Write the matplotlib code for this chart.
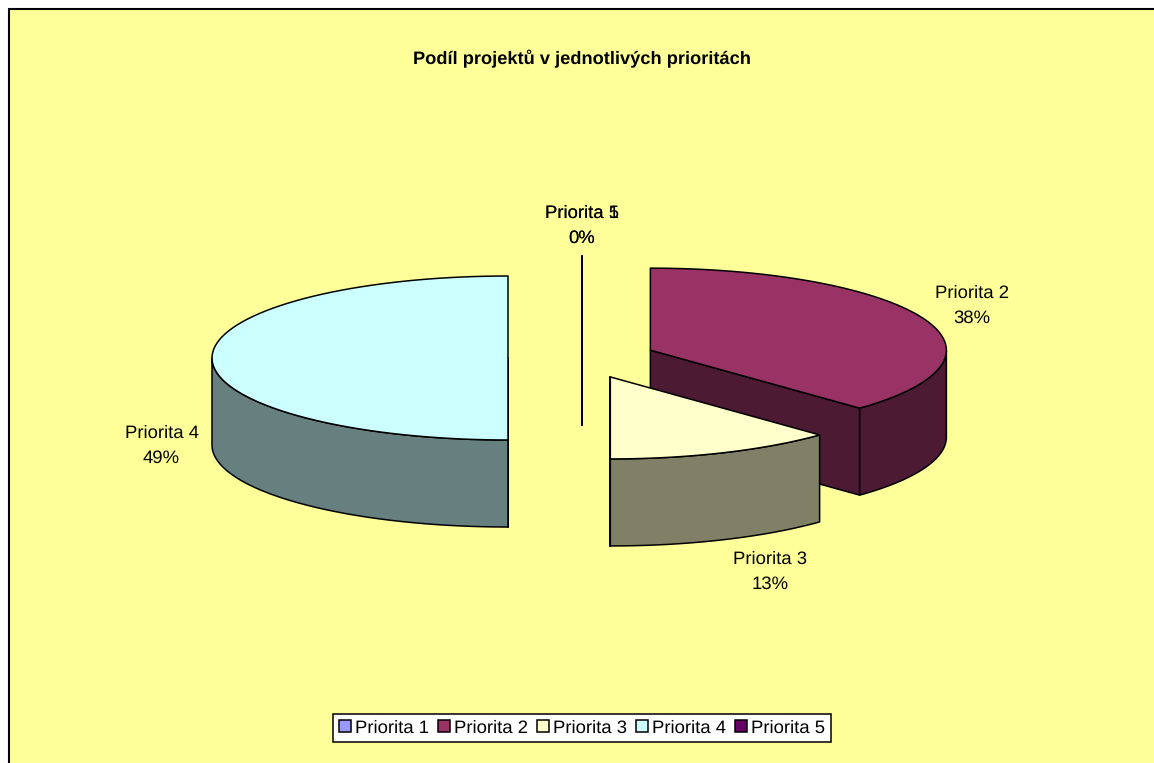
import numpy as np
import matplotlib
matplotlib.use('Agg')
import matplotlib.pyplot as plt
from matplotlib.patches import Polygon, Patch, Rectangle

plt.rcParams['font.family'] = ['Liberation Sans', 'DejaVu Sans']
plt.rcParams['text.hinting'] = 'no_hinting'

title = 'Podíl projektů v jednotlivých prioritách'
names = ['Priorita 1', 'Priorita 2', 'Priorita 3', 'Priorita 4', 'Priorita 5']
shares = [0, 37.5, 12.5, 50, 0]
pct_labels = ['0%', '38%', '13%', '49%', '0%']
top_colors = ['#9999FF', '#993366', '#FFFFCC', '#CCFFFF', '#660066']
side_colors = ['#4D4D80', '#4D1A33', '#808066', '#668080', '#330033']

# pie geometry in pixels
cx, cy = 582, 358
rx, ry = 296, 82
depth = 87
explode = 0.25
lw = 1.1
fs = 13.3

# name left edge, name y, percent centre x, percent y
label_pos = [(545, 213, 582, 238), (935, 293, 972, 318), (733, 559, 770, 584),
             (125, 433, 161, 458), (545, 213, 582, 238)]


def point(ang, ox, oy, r=1.0):
    # angle in degrees, clockwise from 12 o'clock
    t = np.radians(ang)
    return ox + r * rx * np.sin(t), oy - r * ry * np.cos(t)


def arc(a, b, ox, oy):
    angs = np.linspace(a, b, 80)
    return [point(x, ox, oy) for x in angs]


fig = plt.figure(figsize=(11.54, 7.63), dpi=100, facecolor='white')
ax = fig.add_axes([0, 0, 1, 1])
ax.set_xlim(0, 1154)
ax.set_ylim(763, 0)
ax.axis('off')

ax.add_patch(Rectangle((9, 9), 1200, 800, facecolor='#FFFF99', edgecolor='black', linewidth=1.5))
ax.text(582, 59, title, ha='center', va='center', fontsize=13.15, fontweight='bold')

edges = np.concatenate([[0], np.cumsum(shares)]) * 3.6
draw_order = [3, 0, 4, 1, 2]
for i in draw_order:
    a, b = edges[i], edges[i + 1]
    mid = (a + b) / 2
    ox, oy = point(mid, cx, cy, explode)
    style = dict(edgecolor='black', linewidth=lw, joinstyle='round')

    # cut faces that turn towards the viewer
    for ang, seen in ((a, 180 <= a <= 360), (b, 0 <= b <= 180)):
        if seen:
            px, py = point(ang, ox, oy)
            face = [(ox, oy), (px, py), (px, py + depth), (ox, oy + depth)]
            ax.add_patch(Polygon(face, closed=True, facecolor=side_colors[i], **style))

    # outer wall, only the front half of the ellipse shows
    lo, hi = max(a, 90), min(b, 270)
    if hi > lo:
        upper = arc(lo, hi, ox, oy)
        lower = [(x, y + depth) for x, y in upper][::-1]
        ax.add_patch(Polygon(upper + lower, closed=True, facecolor=side_colors[i], **style))

    # top
    ax.add_patch(Polygon([(ox, oy)] + arc(a, b, ox, oy), closed=True, facecolor=top_colors[i], **style))

for name, pct, pos in zip(names, pct_labels, label_pos):
    ax.text(pos[0], pos[1], name, ha='left', va='center', fontsize=fs)
    ax.text(pos[2], pos[3], pct, ha='center', va='center', fontsize=fs)

handles = [Patch(facecolor=c, edgecolor='black', linewidth=lw) for c in top_colors]
leg = ax.legend(handles, names, loc='center', bbox_to_anchor=(582, 728), bbox_transform=ax.transData,
                ncol=5, fontsize=fs, frameon=True, fancybox=False, framealpha=1, facecolor='white',
                edgecolor='black', handlelength=0.65, handleheight=0.65, handletextpad=0.2,
                columnspacing=0.5, borderpad=0.33, borderaxespad=0)
leg.get_frame().set_linewidth(lw)

plt.savefig('out.png', dpi=100)
